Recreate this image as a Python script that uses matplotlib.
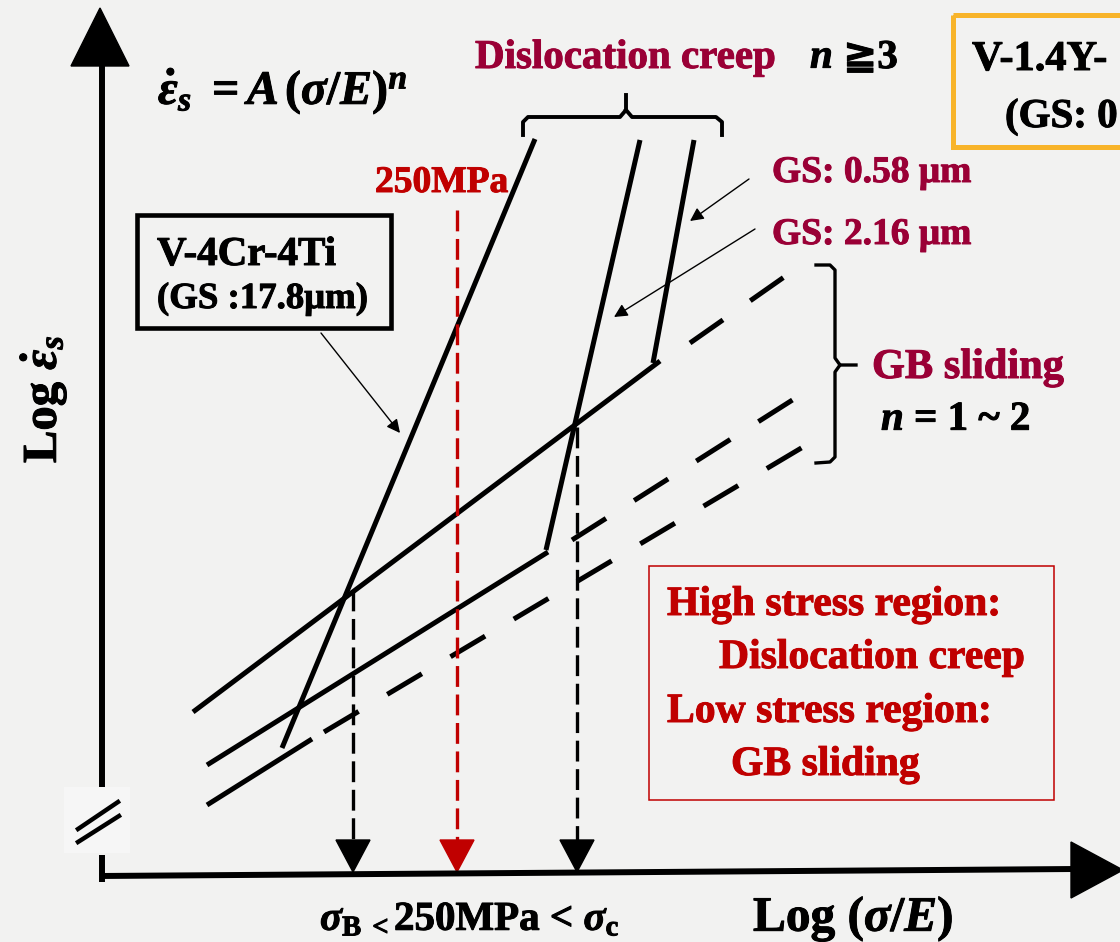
import matplotlib.pyplot as plt
import matplotlib.patheffects as pe
from matplotlib.patches import Polygon, Rectangle

plt.rcParams['font.family'] = ['Liberation Serif', 'DejaVu Serif', 'DejaVu Sans']
plt.rcParams['font.weight'] = 'bold'
plt.rcParams['mathtext.fontset'] = 'custom'
plt.rcParams['mathtext.rm'] = 'Liberation Serif:bold'
plt.rcParams['mathtext.it'] = 'Liberation Serif:italic:bold'
plt.rcParams['mathtext.bf'] = 'Liberation Serif:bold'
plt.rcParams['lines.scale_dashes'] = False

BG = '#f2f2f1'
MAROON = '#9a0036'
RED = '#c00000'
ORANGE = '#f8b42a'

# dislocation creep branches, one per grain size (um): end points in px
creep_gs = ['17.8', '2.16', '0.58']
creep_x = [[282, 535], [546, 640], [653, 694]]
creep_y = [[748, 139], [550, 140], [363, 140]]

# grain boundary sliding lines: solid part, then the dashed extension
gb_solid_x = [[193, 660], [207, 548], [207, 312]]
gb_solid_y = [[712, 361], [765, 552], [805, 739]]
gb_dash_x = [[690, 797], [572, 794], [324, 803]]
gb_dash_y = [[343, 268], [540, 399], [732, 447]]

# stresses projected down to the x axis: sigma_B, 250 MPa, sigma_c
drop_x = [353, 457, 577]
drop_top = [590, 210, 427]
drop_color = ['black', RED, 'black']

fig = plt.figure(figsize=(11.2, 9.42), dpi=100, facecolor=BG)
ax = fig.add_axes([0, 0, 1, 1])
ax.set_xlim(0, 1120)
ax.set_ylim(942, 0)
ax.axis('off')
ax.set_facecolor(BG)


def label(x, y, s, size, color='k', **kw):
    # heavier strokes for the bold serif labels
    t = ax.text(x, y, s, fontsize=size, color=color, fontweight='bold', **kw)
    t.set_path_effects([pe.withStroke(linewidth=0.7, foreground=color)])
    return t


# axes with arrow heads and the break mark
ax.plot([102, 102], [60, 787], color='k', lw=4.3, solid_capstyle='butt')
ax.plot([102, 102], [855, 882], color='k', lw=4.3, solid_capstyle='butt')
ax.add_patch(Polygon([(100, 8), (71, 66), (129, 66)], closed=True, color='k'))
ax.plot([100, 1075], [876, 869], color='k', lw=4.3, solid_capstyle='butt')
ax.add_patch(Polygon([(1123, 870), (1071, 842), (1071, 898)], closed=True, color='k'))
ax.add_patch(Rectangle((64, 787), 66, 66, color='#f6f6f6', lw=0))
ax.plot([78, 118], [829, 802], color='k', lw=3.2)
ax.plot([78, 119], [842, 816], color='k', lw=3.2)

for xs, ys in zip(creep_x, creep_y):
    ax.plot(xs, ys, color='k', lw=3.6, solid_capstyle='butt')
for xs, ys in zip(gb_solid_x, gb_solid_y):
    ax.plot(xs, ys, color='k', lw=3.6, solid_capstyle='butt')
for xs, ys in zip(gb_dash_x, gb_dash_y):
    ax.plot(xs, ys, color='k', lw=3.6, ls=(0, (29, 24)))

for x, top, c in zip(drop_x, drop_top, drop_color):
    ax.plot([x, x], [top, 842], color=c, lw=2.4, ls=(0, (15, 5.5)))
    ax.add_patch(Polygon([(x, 872), (x - 17, 840), (x + 17, 840)], closed=True, color=c))

# braces
ax.plot([523, 523, 528, 620, 626, 626], [135, 122, 117, 117, 110, 95], color='k', lw=2.8)
ax.plot([626, 632, 716, 722, 722], [110, 117, 117, 122, 135], color='k', lw=2.8)
ax.plot([816, 830, 835, 835, 840, 856], [265, 265, 270, 358, 365, 365], color='k', lw=2.4)
ax.plot([840, 835, 835, 830, 816], [365, 372, 457, 462, 463], color='k', lw=2.4)

# boxes
ax.add_patch(Rectangle((137, 215), 254, 113, fill=False, ec='k', lw=3.3))
ax.add_patch(Rectangle((649, 566), 405, 234, fill=False, ec=RED, lw=1.1))
ax.add_patch(Rectangle((953, 15), 220, 132, fill=False, ec=ORANGE, lw=3.6))

# pointer arrows
arrow = dict(arrowstyle='-|>', lw=1, color='k', mutation_scale=20, shrinkA=0, shrinkB=0)
ax.annotate('', xy=(400, 433), xytext=(321, 333), arrowprops=arrow)
ax.annotate('', xy=(690, 221), xytext=(749, 179), arrowprops=arrow)
ax.annotate('', xy=(614, 317), xytext=(755, 229), arrowprops=arrow)

# labels
label(158, 104, r'$\dot{\varepsilon}_s\ = A\,(\sigma/E)^n$', 34.5)
label(56, 463, r'Log $\dot{\varepsilon}_s$', 35, rotation=90,
      rotation_mode='anchor', ha='left', va='baseline')
label(475, 68, 'Dislocation creep', 29.5, MAROON)
label(810, 68, r'$n$', 29.5)
label(843, 68, '≧3', 29.5)
label(375, 192, '250MPa', 27, RED)
label(157, 265, 'V-4Cr-4Ti', 29.5)
label(157, 308, '(GS :' + creep_gs[0] + 'μm)', 26.5)
label(772, 182, 'GS: ' + creep_gs[2] + ' μm', 27, MAROON)
label(772, 244, 'GS: ' + creep_gs[1] + ' μm', 27, MAROON)
label(972, 70, 'V-1.4Y-', 30.5)
label(1005, 127, '(GS: 0', 29.5)
label(872, 378, 'GB sliding', 30.5, MAROON)
label(881, 430, r'$n$ = 1 ~ 2', 29.5)

label(667, 615, 'High stress region:', 30, RED)
label(719, 668, 'Dislocation creep', 30, RED)
label(667, 722, 'Low stress region:', 30, RED)
label(731, 775, 'GB sliding', 30, RED)

label(320, 930, r'$\sigma_{\rm B}\,{}_{<}$250MPa < $\sigma_{\rm c}$', 29.5)
label(753, 931, r'Log $(\sigma/E)$', 35.5)

fig.savefig('out.png', dpi=100, facecolor=BG)
